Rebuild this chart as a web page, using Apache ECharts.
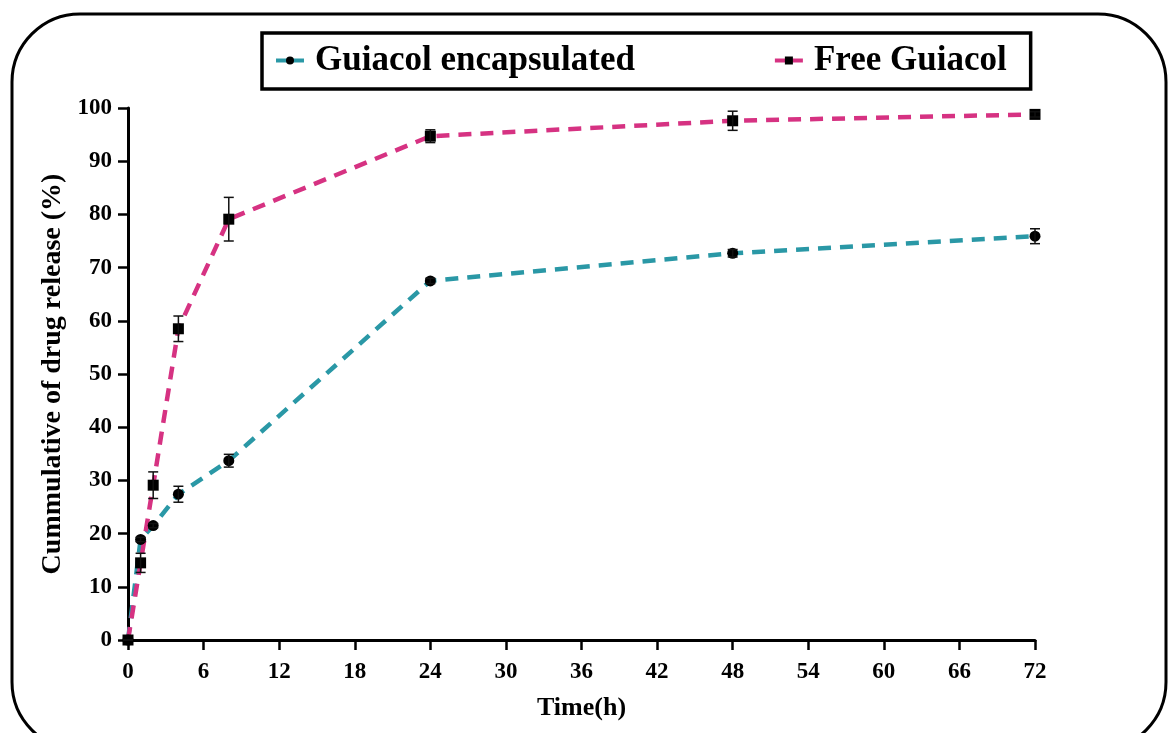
<!DOCTYPE html>
<html>
<head>
<meta charset="utf-8">
<script src="https://cdn.jsdelivr.net/npm/echarts@6/dist/echarts.min.js"></script>
<style>
  html, body { margin: 0; padding: 0; background: #fff; }
  #chart { width: 1170px; height: 733px; }
</style>
</head>
<body>
<div id="chart"></div>
<script>
var times = [0, 1, 2, 4, 8, 24, 48, 72];
var encapsulated = [0, 18.9, 21.5, 27.4, 33.7, 67.5, 72.7, 75.9];
var encapsulatedErr = [0, 0.4, 0.4, 1.5, 1.2, 0.5, 0.7, 1.4];
var free = [0, 14.5, 29.1, 58.5, 79.1, 94.7, 97.6, 98.8];
var freeErr = [0, 1.8, 2.5, 2.4, 4.1, 1.2, 1.8, 0.5];
var xTicks = [0, 6, 12, 18, 24, 30, 36, 42, 48, 54, 60, 66, 72];

var font = "'Liberation Serif', 'Times New Roman', serif";
var teal = "#2a98a6";
var pink = "#d63282";

function pairs(ys) {
  return times.map(function (t, i) { return [t, ys[i]]; });
}

function errorData(ys, errs) {
  return times.map(function (t, i) { return [t, ys[i] - errs[i], ys[i] + errs[i]]; });
}

function errorBars(params, api) {
  var x = api.value(0);
  var lo = api.coord([x, api.value(1)]);
  var hi = api.coord([x, api.value(2)]);
  var cap = 5;
  var style = { stroke: "#111", lineWidth: 1.5 };
  return {
    type: "group",
    children: [
      { type: "line", shape: { x1: lo[0], y1: lo[1], x2: hi[0], y2: hi[1] }, style: style },
      { type: "line", shape: { x1: lo[0] - cap, y1: lo[1], x2: lo[0] + cap, y2: lo[1] }, style: style },
      { type: "line", shape: { x1: hi[0] - cap, y1: hi[1], x2: hi[0] + cap, y2: hi[1] }, style: style },
    ],
  };
}

var chart = echarts.init(document.getElementById("chart"));

var option = {
  animation: false,
  backgroundColor: "#fff",
  graphic: [
    {
      type: "rect",
      shape: { x: 12, y: 14, width: 1154, height: 736, r: 68 },
      style: { fill: "none", stroke: "#000", lineWidth: 3 },
      z: -1,
    },
  ],
  legend: {
    left: 262,
    top: 33,
    padding: [10, 24, 11, 12],
    borderColor: "#000",
    borderWidth: 3.5,
    itemGap: 138,
    itemWidth: 28,
    itemHeight: 10,
    lineStyle: { type: "solid", width: 4 },
    textStyle: {
      fontFamily: font,
      fontWeight: "bold",
      fontSize: 35,
      color: "#000",
      padding: [0, 0, 0, 6],
    },
    data: ["Guiacol encapsulated", "Free Guiacol"],
  },
  grid: { left: 128, right: 135, top: 108, bottom: 93 },
  xAxis: {
    type: "value",
    min: 0,
    max: 72,
    interval: 6,
    name: "Time(h)",
    nameLocation: "middle",
    nameGap: 55,
    nameTextStyle: { fontFamily: font, fontWeight: "bold", fontSize: 26, color: "#000" },
    axisLine: { show: true, onZero: false, lineStyle: { color: "#000", width: 3 } },
    axisTick: { show: true, length: 10, lineStyle: { color: "#000", width: 2.5 } },
    axisLabel: {
      margin: 21,
      fontFamily: font,
      fontWeight: "bold",
      fontSize: 23,
      color: "#000",
      formatter: function (v) { return xTicks.indexOf(v) >= 0 ? String(v) : ""; },
    },
    splitLine: { show: false },
  },
  yAxis: {
    type: "value",
    min: 0,
    max: 100,
    interval: 10,
    name: "Cummulative of drug release (%)",
    nameLocation: "middle",
    nameGap: 57,
    nameTextStyle: { fontFamily: font, fontWeight: "bold", fontSize: 28, color: "#000" },
    axisLine: { show: true, lineStyle: { color: "#000", width: 3 } },
    axisTick: { show: true, length: 10, lineStyle: { color: "#000", width: 2.5 } },
    axisLabel: { margin: 16, fontFamily: font, fontWeight: "bold", fontSize: 23, color: "#000" },
    splitLine: { show: false },
  },
  series: [
    {
      name: "Guiacol encapsulated",
      type: "line",
      data: pairs(encapsulated),
      symbol: "circle",
      symbolSize: 11,
      itemStyle: { color: "#000" },
      lineStyle: { color: teal, width: 4.5, type: [13, 9] },
      z: 3,
    },
    {
      name: "Free Guiacol",
      type: "line",
      data: pairs(free),
      symbol: "rect",
      symbolSize: 11,
      itemStyle: { color: "#000" },
      lineStyle: { color: pink, width: 4.5, type: [13, 9] },
      z: 3,
    },
    {
      type: "custom",
      renderItem: errorBars,
      data: errorData(encapsulated, encapsulatedErr),
      encode: { x: 0, y: [1, 2] },
      z: 4,
      silent: true,
    },
    {
      type: "custom",
      renderItem: errorBars,
      data: errorData(free, freeErr),
      encode: { x: 0, y: [1, 2] },
      z: 4,
      silent: true,
    },
  ],
};

chart.setOption(option);
</script>
</body>
</html>
